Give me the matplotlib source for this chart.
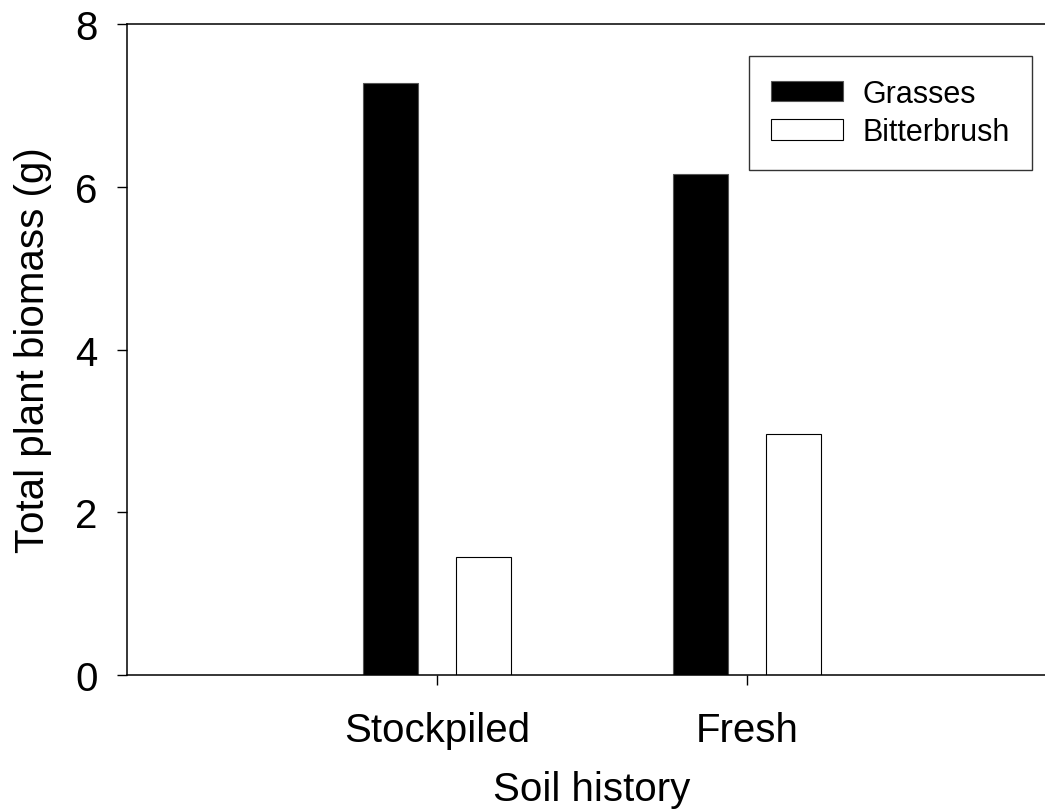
import numpy as np
import matplotlib
matplotlib.use("Agg")
import matplotlib.pyplot as plt

# values
soil = ["Stockpiled", "Fresh"]
grasses = [7.27, 6.16]
bitterbrush = [1.45, 2.96]
yticks = [0, 2, 4, 6, 8]

plt.rcParams["font.family"] = ["Liberation Sans", "DejaVu Sans"]

fig = plt.figure(figsize=(10.45, 8.12), dpi=100)
ax = fig.add_axes([127 / 1045, 136 / 812, 930 / 1045, 651 / 812])

x = np.arange(1, len(soil) + 1)
w = 0.18
ax.bar(x - 0.15, grasses, w, color="black", edgecolor="#555555", lw=0.8, label="Grasses")
ax.bar(x + 0.15, bitterbrush, w, color="white", edgecolor="black", lw=0.8, label="Bitterbrush")

ax.set_xlim(0, 3)
ax.set_ylim(0, 8)
ax.set_xticks(x)
ax.set_xticklabels(soil)
ax.set_yticks(yticks)
ax.tick_params(axis="both", direction="out", length=7, width=1.0, labelsize=29)
ax.tick_params(axis="x", pad=19)
ax.tick_params(axis="y", pad=14)
ax.spines["right"].set_visible(False)
for s in ("left", "top", "bottom"):
    ax.spines[s].set_linewidth(1.1)

ax.set_xlabel("Soil history", fontsize=29, labelpad=15)
ax.set_ylabel("Total plant biomass (g)", fontsize=29, labelpad=17)

leg = ax.legend(loc="upper right", bbox_to_anchor=(1032 / 1045, 1 - 57 / 812),
                bbox_transform=fig.transFigure, borderaxespad=0, fontsize=22,
                fancybox=False, edgecolor="#333333", framealpha=1,
                handlelength=2.35, handleheight=0.65, handletextpad=0.62,
                labelspacing=0.28, borderpad=0.74)
leg.get_frame().set_linewidth(1.0)

fig.savefig("out.png", dpi=100)
